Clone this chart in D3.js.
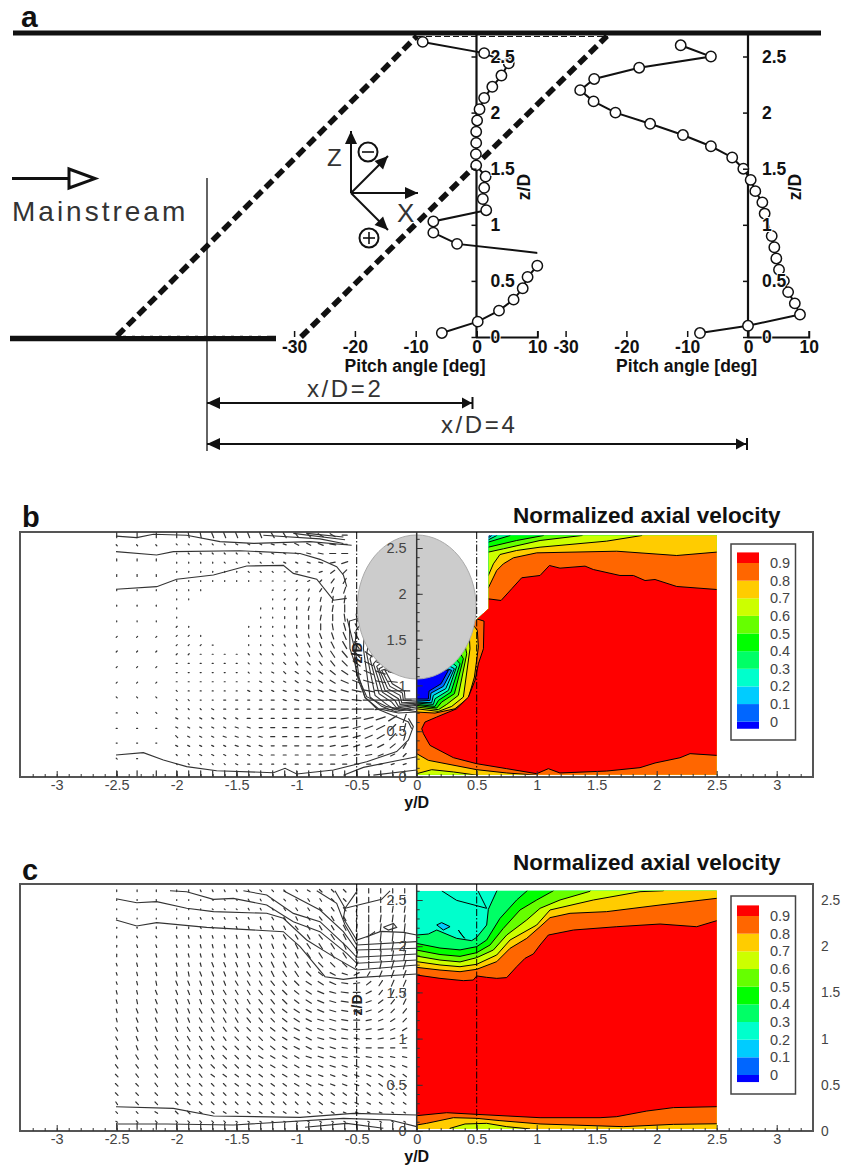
<!DOCTYPE html>
<html>
<head>
<meta charset="utf-8">
<style>
  body { margin: 0; background: #fff; }
  text { font-family: "Liberation Sans", Arial, sans-serif; }
</style>
<script src="https://cdn.jsdelivr.net/npm/d3@7"></script>
</head>
<body>
<div id="chart"></div>
<script>
// panel a - pitch angle profiles [deg] against z/D
const zA1 = [2.63,2.53,2.44,2.33,2.23,2.13,2.03,1.93,1.83,1.73,1.63,1.53,1.43,1.33,1.23,1.13,1.03,0.93,0.83,0.735,0.635,0.535,0.434,0.333,0.235,0.137,0.036];
const pitchA1 = [-8.85,1.26,5.3,4.1,2.6,1.26,0.5,0.1,-0.05,-0.05,-0.1,-0.05,1.5,1.26,1.04,1.6,-7.1,-7.1,-3.2,12.5,10,8.4,7.6,6.1,3.7,0.2,-5.7];
const zA2 = [2.6,2.5,2.4,2.3,2.2,2.1,2.0,1.9,1.8,1.7,1.6,1.5,1.4,1.3,1.2,1.1,0.9,0.8,0.7,0.6,0.5,0.4,0.3,0.2,0.1,0.035];
const pitchA2 = [-11.07,-6.1,-17.9,-25.3,-27.6,-25.4,-21.8,-16.1,-10.7,-6.1,-2.6,-0.77,0.44,1.2,2.36,2.74,3.9,4.33,4.66,5.1,5.9,6.6,7.7,8.55,0,-7.9];
const pitchTicks = [-30,-20,-10,0,10];
const zTicksA = [0,0.5,1,1.5,2,2.5];

// panels b, c - shared axis ticks and legend
const yMajor = [-3,-2.5,-2,-1.5,-1,-0.5,0,0.5,1,1.5,2,2.5,3];
const zMajor = [0,0.5,1,1.5,2,2.5];
const legendLabels = [0,0.1,0.2,0.3,0.4,0.5,0.6,0.7,0.8,0.9];
const bandEdges = [-0.04,0,0.1,0.2,0.3,0.4,0.5,0.6,0.7,0.8,0.9,0.96];
const bandColors = ["#0000ff","#0066ff","#00ccff","#00ffcc","#00ff66","#00ff00","#66ff00","#ccff00","#ffcc00","#ff6600","#ff0000"];

// contour boundaries of panel b in [y/D, z/D], index = level 0, 0.1 ... 0.9
const bDomain = [[0,0.025],[0,1.2],[0.5,1.72],[0.6,1.84],[0.6,2.636],[2.5,2.636],[2.5,0.025]];
const bTop = [
  [[0.55,2.7],[2.6,2.7]],
  [[0.55,2.625],[0.597,2.625],[0.61,2.636],[0.62,2.7],[2.6,2.7]],
  [[0.55,2.611],[0.597,2.611],[0.625,2.636],[0.65,2.7],[2.6,2.7]],
  [[0.55,2.589],[0.597,2.589],[0.667,2.636],[0.7,2.7],[2.6,2.7]],
  [[0.55,2.564],[0.597,2.564],[0.778,2.636],[0.8,2.7],[2.6,2.7]],
  [[0.55,2.509],[0.597,2.509],[0.833,2.582],[1.056,2.636],[1.1,2.7],[2.6,2.7]],
  [[0.55,2.455],[0.597,2.455],[0.722,2.491],[1.028,2.582],[1.375,2.636],[1.45,2.7],[2.6,2.7]],
  [[0.55,2.2],[0.597,2.2],[0.639,2.327],[0.694,2.429],[0.833,2.473],[1.028,2.509],[1.583,2.575],[1.875,2.636],[1.9,2.7],[2.6,2.7]],
  [[0.55,2.06],[0.597,2.065],[0.667,2.255],[0.722,2.327],[0.806,2.393],[1,2.447],[1.667,2.465],[2.167,2.418],[2.5,2.455],[2.6,2.45]],
  [[0.55,1.95],[0.597,1.945],[0.703,1.927],[0.792,2.055],[0.875,2.175],[1.028,2.2],[1.106,2.309],[1.194,2.28],[1.403,2.302],[1.472,2.265],[1.694,2.2],[1.806,2.2],[1.903,2.145],[1.986,2.156],[2.167,2.08],[2.5,2.047],[2.6,2.04]]
];
const bBottom = [
  [[2.6,-0.1],[-0.05,-0.1]],
  [[2.6,-0.1],[-0.05,-0.1]],
  [[2.6,-0.1],[-0.05,-0.1]],
  [[2.6,-0.1],[-0.05,-0.1]],
  [[2.6,-0.1],[-0.05,-0.1]],
  [[2.6,-0.1],[-0.05,-0.1]],
  [[2.6,-0.1],[-0.05,-0.1]],
  [[2.6,-0.1],[0.6,-0.1],[0.528,0.015],[0.306,0.055],[0.125,0.08],[0,0.036],[-0.05,0.03]],
  [[2.6,-0.1],[1.05,-0.1],[1,0.02],[0.75,0.044],[0.5,0.08],[0.097,0.182],[0,0.255],[-0.05,0.28]],
  [[2.6,0.22],[2.5,0.236],[2.278,0.255],[2.194,0.21],[1.986,0.153],[1.861,0.102],[1.583,0.065],[1.194,0.044],[1.097,0.091],[1,0.036],[0.75,0.091],[0.5,0.145],[0.306,0.211],[0.111,0.345],[0.056,0.473]]
];
const bCore = [
  [[0,0.851],[0.097,0.851],[0.103,0.938],[0.203,1.018],[0.264,1.164],[0.05,1.2]],
  [[0,0.829],[0.111,0.836],[0.119,0.916],[0.222,0.989],[0.292,1.164],[0.1,1.25]],
  [[0,0.818],[0.125,0.811],[0.139,0.891],[0.242,0.964],[0.314,1.182],[0.15,1.3]],
  [[0,0.807],[0.139,0.793],[0.153,0.855],[0.264,0.945],[0.333,1.207],[0.2,1.35]],
  [[0,0.793],[0.153,0.771],[0.181,0.836],[0.286,0.927],[0.361,1.236],[0.25,1.4]],
  [[0,0.782],[0.167,0.753],[0.208,0.818],[0.314,0.909],[0.389,1.291],[0.3,1.5]],
  [[0,0.764],[0.181,0.735],[0.25,0.793],[0.347,0.891],[0.417,1.345],[0.38,1.6]],
  [[0,0.745],[0.181,0.716],[0.292,0.771],[0.389,0.873],[0.444,1.4],[0.44,1.5],[0.4,1.7]],
  [[0,0.709],[0.153,0.698],[0.319,0.745],[0.431,0.865],[0.481,1.091],[0.514,1.418],[0.505,1.6],[0.45,1.7]],
  [[0.042,0.527],[0.069,0.6],[0.167,0.655],[0.333,0.745],[0.431,0.873],[0.486,1.055],[0.514,1.236],[0.556,1.4],[0.561,1.702],[0.49,1.73]]
];
// contour lines left of y/D=0, panel b
const bLeftLines = [
  [[-2.506,2.63],[-2.333,2.613],[-2.194,2.65],[-1.917,2.64],[-1.639,2.57],[-1.361,2.55],[-0.889,2.57],[-0.542,2.53]],
  [[-1.028,2.66],[-0.597,2.59]],
  [[-1.278,2.64],[-0.806,2.6],[-0.611,2.55]],
  [[-0.917,2.66],[-0.611,2.62]],
  [[-2.506,2.46],[-2.167,2.424],[-2.028,2.46],[-1.472,2.47],[-0.972,2.44],[-0.806,2.376],[-0.667,2.296],[-0.611,2.205],[-0.583,2.078]],
  [[-2.506,2.05],[-2.167,2.078],[-2,2.158],[-1.694,2.205],[-1.417,2.303],[-1.111,2.31],[-1.028,2.223],[-0.833,2.16],[-0.694,1.93],[-0.583,1.95]],
  [[-2.506,0.24],[-2.278,0.266],[-2.111,0.186],[-1.917,0.113],[-1.667,0.069],[-1.194,0.047],[-1.097,0.095],[-1,0.033],[-0.694,0.076],[-0.417,0.167],[-0.167,0.277],[-0.069,0.404],[-0.028,0.55],[-0.069,0.64]],
  [[-0.611,0.02],[-0.444,0.105],[0,0.222]],
  [[-0.361,0.02],[0,0.076]],
  [[-0.58,1.73],[-0.528,1.46],[-0.5,1.13],[-0.417,0.877],[-0.25,0.768],[0,0.713]]
];

// contour boundaries of panel c, index = level 0.3 ... 0.9
const cDomain = [[0,0.022],[0,2.6],[2.5,2.6],[2.5,0.022]];
const cTop = [
  [[-0.05,2.12],[0,2.121],[0.097,2.132],[0.167,2.175],[0.333,2.085],[0.458,2.06],[0.5,2.096],[0.583,2.229],[0.597,2.399],[0.667,2.597],[0.7,2.7],[2.6,2.7]],
  [[-0.05,2.04],[0,2.03],[0.194,1.98],[0.361,1.96],[0.5,1.995],[0.583,2.067],[0.694,2.301],[0.833,2.5],[0.92,2.6],[0.95,2.7],[2.6,2.7]],
  [[-0.05,1.97],[0,1.958],[0.194,1.91],[0.361,1.89],[0.5,1.93],[0.611,2.013],[0.722,2.193],[0.861,2.392],[1,2.5],[1.139,2.6],[1.2,2.7],[2.6,2.7]],
  [[-0.05,1.9],[0,1.893],[0.194,1.85],[0.361,1.83],[0.5,1.876],[0.639,1.959],[0.75,2.121],[0.917,2.284],[1.028,2.41],[1.194,2.5],[1.444,2.594],[1.5,2.7],[2.6,2.7]],
  [[-0.05,1.84],[0,1.833],[0.194,1.797],[0.361,1.778],[0.5,1.804],[0.667,1.905],[0.778,2.067],[1,2.229],[1.111,2.392],[1.472,2.5],[1.861,2.59],[2.056,2.6],[2.1,2.7],[2.6,2.7]],
  [[-0.05,1.78],[0,1.771],[0.194,1.742],[0.361,1.724],[0.5,1.75],[0.667,1.833],[0.778,1.977],[0.917,2.085],[1.028,2.211],[1.111,2.309],[1.278,2.356],[1.583,2.374],[2.028,2.446],[2.5,2.518],[2.6,2.53]],
  [[-0.05,1.69],[0,1.688],[0.194,1.652],[0.389,1.627],[0.472,1.634],[0.5,1.678],[0.583,1.663],[0.667,1.652],[0.75,1.66],[0.833,1.778],[0.903,1.869],[0.972,1.916],[1.028,2.013],[1.097,2.121],[1.306,2.175],[1.667,2.211],[2.028,2.24],[2.333,2.211],[2.5,2.276],[2.6,2.3]]
];
const cBottom = [
  [[2.6,-0.1],[-0.05,-0.1]],
  [[2.6,-0.1],[-0.05,-0.1]],
  [[2.6,-0.1],[-0.05,-0.1]],
  [[2.6,-0.1],[-0.05,-0.1]],
  [[2.6,-0.1],[1,-0.1],[0.944,0.022],[0.75,0.047],[0.583,0.083],[0.403,0.076],[0.278,0.029],[0.25,-0.1],[-0.05,-0.1]],
  [[2.6,0.08],[2.139,0.072],[1.722,0.047],[1.028,0.076],[0.694,0.112],[0.5,0.137],[0.306,0.144],[0.083,0.083],[0,0.065],[-0.05,0.05]],
  [[2.6,0.26],[2.5,0.263],[2.139,0.253],[1.917,0.216],[1.667,0.155],[1.528,0.144],[1.028,0.144],[0.5,0.18],[0.25,0.198],[0,0.166],[-0.05,0.16]]
];
const cIslands = [
  [[0.167,2.23],[0.208,2.255],[0.278,2.212],[0.222,2.175]],
  [[0.347,2.175],[0.39,2.1],[0.4,2.085],[0.37,2.13]]
];
const cExtraLines = [[[0.208,2.6],[0.333,2.496],[0.583,2.41],[0.51,2.6]]];
const cLeftLines = [
  [[-2.506,2.283],[-2.333,2.219],[-2.167,2.255],[-1.75,2.204],[-1.111,2.157],[-0.972,1.995],[-0.764,1.67],[-0.611,1.641],[-0.5,1.66],[0,1.699]],
  [[-2.506,2.514],[-2.333,2.471],[-2.167,2.482],[-1.917,2.41],[-1.694,2.374],[-1.25,2.356],[-1.111,2.302],[-0.917,2.067],[-0.694,1.887],[-0.5,1.742],[0,1.797]],
  [[-2.056,2.6],[-1.917,2.59],[-1.694,2.507],[-1.528,2.518],[-1.25,2.446],[-1.028,2.265],[-0.806,2.157],[-0.583,1.923],[-0.5,1.815],[0,1.85]],
  [[-1.444,2.6],[-1.25,2.554],[-1.028,2.355],[-0.806,2.265],[-0.583,1.995],[-0.5,1.88],[0,1.916]],
  [[-1.111,2.6],[-0.806,2.392],[-0.611,2.157],[-0.5,1.959],[0,1.977]],
  [[-0.833,2.6],[-0.667,2.464],[-0.597,2.23],[-0.5,2.013],[0,2.049]],
  [[-0.681,2.6],[-0.597,2.41],[-0.5,2.59]],
  [[-0.597,2.41],[-0.611,2.3],[-0.5,2.067],[-0.4,2.11],[-0.3,2.16],[-0.11,2.15],[0,2.121]],
  [[-0.597,2.41],[-0.292,2.507],[-0.222,2.6]],
  [[-2.506,0.263],[-2.028,0.245],[-1.694,0.162],[-0.972,0.148],[-0.528,0.191],[0,0.173]],
  [[-2.506,0.076],[-2.083,0.076],[-1.528,0.065],[-0.611,0.137],[-0.222,0.119],[0,0.047]],
  [[-0.931,0.04],[-0.583,0.083],[-0.278,0.029]],
  [[-0.417,2.096],[-0.347,2.157],[-0.39,2.12],[-0.417,2.096]],
  [[-0.278,2.204],[-0.194,2.247],[-0.167,2.204],[-0.236,2.175],[-0.278,2.204]]
];

// vector columns and rows
const vecCols = [-2.5,-2.33,-2.17,-2,-1.9,-1.8,-1.7,-1.6,-1.5,-1.4,-1.3,-1.2,-1.1,-1,-0.9,-0.8,-0.7,-0.6,-0.5,-0.4,-0.3,-0.2,-0.1];
const bOuterZ = [2.64,2.53,2.37,2.2,2.04,1.87,1.7,1.53,1.37,1.2,1.03,0.87,0.7,0.53,0.37,0.2,0.04];
const bOuterU = [
  [0,0,0],[1,1,1],[0,0,0],[0,0,0],[0,0,0],[0,0,0],[0,0,0],[-1,-1,-1],[-1,-1,-1],[-1,-1,-1],[-1,-1,-1],[-1,-1,-1],[-1,-1,-1],[-1,-1,-1],[-1,-1,-1],[-1,-1,0],[0,0,0]
];
const bOuterV = [
  [5,5,5],[-1,-1,-1],[-2,-2,-2],[-2,-2,-2],[-1,-1,-1],[-1,-1,-1],[-1,-1,-1],[-1,-1,-1],[-1,-1,-1],[-1,-1,-1],[-1,-1,-1],[1,1,1],[0,1,1],[0,0,0],[0,0,0],[1,0,0],[5,5,5]
];
const bRows = [2.64,2.54,2.44,2.34,2.24,2.14,2.04,1.94,1.84,1.74,1.64,1.54,1.44,1.34,1.24,1.14,1.04,0.94,0.84,0.74,0.64,0.54,0.44,0.34,0.24,0.14,0.04];
const bU = [
  [0,1,1,2,2,2,2,2,3,3,3,4,5,5,5,0,0,0,0,0],
  [1,1,1,1,1,2,2,2,3,3,4,4,5,6,5,0,0,0,0,0],
  [0,1,1,1,1,1,1,2,2,2,3,4,5,6,6,0,0,0,0,0],
  [0,0,0,0,1,1,1,1,1,2,2,3,4,5,6,0,0,0,0,0],
  [0,0,0,0,0,0,1,1,1,1,2,2,3,4,4,0,0,0,0,0],
  [0,0,0,0,0,0,0,1,1,1,1,2,2,3,3,0,0,0,0,0],
  [0,0,0,0,0,0,0,0,1,1,1,1,2,2,2,0,0,0,0,0],
  [0,0,0,0,0,0,0,0,0,1,1,1,1,1,1,0,0,0,0,0],
  [0,0,0,0,0,0,0,0,0,0,0,1,1,1,0,0,0,0,0,0],
  [0,0,0,0,0,0,0,0,0,0,0,0,1,0,-1,-1,0,0,0,0],
  [-1,0,0,0,0,0,0,0,0,0,0,0,0,-1,-2,-3,0,0,0,0],
  [-1,-1,0,0,0,0,0,0,0,-1,-1,-1,-2,-2,-3,-4,0,0,0,0],
  [-1,-1,-1,-1,0,0,0,0,-1,-1,-1,-2,-2,-3,-4,-5,-5,0,0,0],
  [-1,-1,-1,-1,-1,-1,-1,-1,-1,-1,-2,-2,-3,-4,-5,-6,-7,0,0,0],
  [-1,-1,-1,-1,-1,-1,-1,-1,-1,-2,-2,-3,-3,-4,-5,-7,-8,-8,0,0],
  [-1,-1,-1,-1,-1,-1,-1,-1,-2,-2,-3,-3,-4,-5,-6,-8,-9,-9,-9,0],
  [-1,-1,-1,-1,-1,-1,-1,-2,-2,-2,-3,-4,-4,-5,-7,-8,-10,-10,-9,0],
  [-1,-1,-1,-1,-1,-1,-2,-2,-2,-3,-3,-4,-5,-6,-7,-9,-11,-12,-12,-10],
  [-1,-1,-1,-1,-2,-2,-2,-2,-3,-3,-4,-4,-5,-6,-7,-9,-11,-12,-13,-13],
  [-1,-1,-1,-2,-2,-2,-2,-3,-3,-3,-4,-4,-5,-6,-7,-9,-10,-11,-12,-12],
  [-2,-1,-2,-2,-2,-2,-3,-3,-3,-4,-4,-5,-5,-6,-7,-8,-9,-9,-8,-3],
  [-2,-2,-2,-2,-2,-3,-3,-3,-4,-4,-4,-5,-5,-6,-7,-7,-8,-8,-6,-2],
  [-2,-2,-2,-2,-3,-3,-3,-3,-4,-4,-4,-5,-5,-6,-6,-7,-7,-7,-6,-2],
  [-2,-2,-2,-2,-2,-3,-3,-3,-3,-4,-4,-4,-5,-5,-6,-6,-6,-6,-5,-3],
  [-1,-1,-2,-2,-2,-2,-2,-3,-3,-3,-3,-4,-4,-5,-5,-5,-6,-5,-4,-3],
  [-1,-1,-1,-1,-1,-2,-2,-2,-2,-2,-3,-3,-3,-4,-4,-4,-4,-4,-3,-3],
  [0,0,0,0,0,0,0,0,0,0,0,0,0,0,0,0,0,0,0,0]
];
const bV = [
  [-5,-5,-5,-5,-5,-5,-5,-5,-5,-5,-4,-4,-3,-3,0,0,0,0,0,0],
  [-1,-1,-1,-1,-1,-1,-1,-1,-1,-1,-2,-2,-2,-1,0,0,0,0,0,0],
  [-1,-1,-1,-1,-1,-1,-1,-1,-1,-1,-1,-1,-1,0,0,0,0,0,0,0],
  [-1,-1,-1,-1,-1,-1,-1,-1,-1,-1,-1,-1,-1,1,2,0,0,0,0,0],
  [-1,-1,-1,-1,-1,-1,-1,-1,-1,0,0,0,1,3,4,0,0,0,0,0],
  [-1,-1,-1,-1,-1,-1,-1,0,0,0,1,1,2,4,5,0,0,0,0,0],
  [-1,-1,-1,0,0,0,0,0,0,1,1,2,3,5,6,0,0,0,0,0],
  [-1,-1,0,0,0,0,0,0,1,1,2,3,4,6,7,0,0,0,0,0],
  [-1,0,0,0,0,0,0,1,1,2,3,4,5,6,7,0,0,0,0,0],
  [-1,0,0,0,0,0,0,1,1,2,3,4,5,6,7,7,0,0,0,0],
  [-1,-1,0,0,0,0,1,1,1,2,3,4,6,6,7,6,0,0,0,0],
  [-1,-1,-1,0,0,0,1,1,1,2,3,4,5,6,7,7,0,0,0,0],
  [-1,-1,-1,0,0,0,1,1,1,2,3,4,5,6,7,7,6,0,0,0],
  [-1,-1,0,0,0,0,1,1,1,2,3,4,5,6,6,6,5,0,0,0],
  [0,0,0,0,0,0,1,1,1,2,3,3,4,5,5,5,4,3,0,0],
  [0,0,0,0,0,0,1,1,1,2,2,3,3,4,4,4,4,3,2,0],
  [0,0,0,0,0,0,0,1,1,1,2,2,3,3,3,3,3,2,1,0],
  [1,0,0,0,0,0,1,1,1,1,1,2,2,2,2,2,2,1,0,0],
  [1,1,0,0,0,0,0,0,0,1,1,1,1,1,1,1,0,0,0,0],
  [1,1,1,1,0,0,0,0,0,0,0,0,0,0,0,0,0,-1,-2,-3],
  [1,1,1,1,1,1,0,0,0,0,0,0,0,0,-1,-1,-2,-3,-5,-8],
  [1,1,1,1,1,1,1,0,0,0,0,0,-1,-1,-1,-2,-3,-4,-6,-8],
  [2,1,1,1,1,1,1,1,0,0,0,0,-1,-1,-1,-2,-3,-4,-6,-7],
  [1,1,1,1,1,1,1,1,0,0,0,0,0,-1,-1,-2,-2,-3,-4,-5],
  [1,1,1,1,1,1,1,1,0,0,0,0,0,0,-1,-1,-1,-2,-2,-3],
  [1,1,1,1,1,1,0,0,0,0,0,0,0,0,0,0,0,-1,-1,-1],
  [5,5,5,5,5,5,5,5,5,5,5,5,5,5,5,5,5,5,5,5]
];
const cRows = [2.6,2.5,2.4,2.3,2.2,2.1,2.0,1.9,1.8,1.7,1.6,1.5,1.4,1.3,1.2,1.1,1.0,0.9,0.8,0.7,0.6,0.5,0.4,0.3,0.2,0.1,0.05];
const cU = [
  [0,0,0,0,0,1,1,1,1,1,2,2,2,2,3,3,3,3,0,0,0,0,0],
  [0,0,0,0,0,0,1,1,1,1,1,2,2,2,2,2,3,3,0,0,0,0,0],
  [0,0,0,0,0,0,1,1,1,1,1,1,2,2,2,3,3,3,1,0,0,1,1],
  [0,0,0,0,0,1,1,1,1,1,1,2,2,2,3,3,3,3,1,0,1,1,1],
  [0,0,0,0,0,1,1,1,1,1,1,2,2,3,3,3,3,3,1,0,1,1,1],
  [0,1,1,1,1,1,1,1,1,1,2,2,3,3,3,4,4,3,1,0,1,1,1],
  [0,1,1,1,1,1,1,1,1,2,2,2,3,3,4,4,4,3,1,0,1,2,2],
  [0,1,1,1,1,1,1,1,2,2,2,3,3,3,4,4,4,4,2,0,1,2,2],
  [1,1,1,1,1,1,2,2,2,2,3,3,3,4,4,5,5,5,3,0,2,3,3],
  [1,1,1,1,1,2,2,2,2,3,3,3,4,4,5,5,6,6,6,3,3,3,3],
  [1,1,1,2,2,2,2,2,3,3,3,4,4,5,6,6,7,7,7,5,4,3,3],
  [1,1,2,2,2,2,2,3,3,3,4,4,5,5,6,7,7,8,8,6,4,3,2],
  [1,1,2,2,2,2,3,3,3,3,4,4,5,5,6,7,7,8,7,6,5,4,3],
  [1,2,2,2,2,3,3,3,3,4,4,4,5,6,6,7,7,7,7,6,5,4,4],
  [1,2,2,2,2,3,3,3,3,4,4,4,5,6,6,7,7,7,7,6,5,5,4],
  [2,2,2,2,3,3,3,3,4,4,4,5,5,6,6,7,7,7,7,6,6,5,5],
  [2,2,2,3,3,3,3,3,4,4,4,5,5,6,6,7,7,7,6,6,6,5,5],
  [2,2,3,3,3,3,3,4,4,4,5,5,5,6,6,6,6,6,6,6,6,5,5],
  [2,3,3,3,3,3,3,4,4,4,5,5,5,5,6,6,6,6,6,6,5,5,5],
  [3,3,3,3,3,3,4,4,4,4,4,5,5,5,5,5,6,6,5,5,5,5,5],
  [3,3,3,3,3,3,4,4,4,4,4,4,5,5,5,5,5,5,5,5,5,5,4],
  [3,3,3,3,3,3,3,3,4,4,4,4,4,5,5,5,5,5,5,4,4,4,4],
  [3,3,3,3,3,3,3,3,3,4,4,4,4,4,4,4,4,4,4,4,4,4,3],
  [2,3,3,3,3,3,3,3,3,3,3,3,3,3,3,4,4,4,4,4,3,3,3],
  [2,2,3,3,3,3,3,3,3,3,3,3,3,3,3,3,3,3,3,3,3,2,2],
  [2,2,2,2,2,2,2,2,2,2,2,2,2,2,2,2,2,2,2,2,2,2,2],
  [0,0,0,0,0,0,0,0,0,0,0,0,0,0,0,0,0,0,0,0,0,0,0]
];
const cV = [
  [-2,-2,-2,-2,-2,-2,-2,-2,-2,-2,-2,-2,-2,-2,-2,-3,-3,-3,-5,-5,-5,-5,-5],
  [-1,-1,-1,-1,-1,-1,-1,-1,-1,-2,-2,-2,-2,-2,-3,-3,-3,-3,5,6,6,6,6],
  [-1,-1,-1,-1,-1,-1,-1,-1,-1,-2,-2,-2,-3,-3,-3,-3,-4,-4,6,7,7,7,7],
  [-1,-1,-1,-1,-2,-2,-2,-2,-2,-2,-3,-3,-3,-4,-4,-4,-5,-5,7,8,8,8,8],
  [-1,-1,-2,-2,-2,-2,-2,-3,-3,-3,-3,-4,-4,-4,-5,-5,-5,-6,8,9,9,9,9],
  [-2,-2,-2,-3,-3,-3,-3,-3,-4,-4,-4,-4,-5,-5,-5,-5,-6,-6,9,10,10,10,10],
  [-2,-3,-3,-3,-3,-4,-4,-4,-4,-4,-5,-5,-5,-6,-6,-6,-6,-7,10,11,11,11,11],
  [-3,-3,-4,-4,-4,-4,-4,-4,-5,-5,-5,-5,-5,-6,-6,-6,-6,-6,9,10,11,11,11],
  [-3,-4,-4,-4,-4,-4,-5,-5,-5,-5,-5,-6,-6,-6,-6,-5,-5,-5,6,8,9,10,10],
  [-3,-4,-4,-5,-5,-5,-5,-5,-5,-5,-5,-6,-6,-6,-5,-4,-3,-2,3,5,7,8,8],
  [-3,-4,-5,-5,-5,-5,-5,-5,-5,-5,-5,-5,-5,-5,-4,-4,-3,-1,1,4,6,7,7],
  [-4,-4,-5,-5,-5,-5,-5,-5,-5,-5,-5,-5,-5,-4,-4,-3,-2,-1,0,3,5,6,7],
  [-4,-5,-5,-5,-5,-5,-5,-5,-5,-5,-5,-5,-5,-4,-4,-3,-2,-1,0,2,4,5,6],
  [-4,-5,-5,-5,-5,-5,-5,-5,-5,-5,-5,-5,-4,-4,-3,-3,-2,-1,0,2,3,4,5],
  [-4,-5,-5,-5,-5,-5,-5,-5,-5,-5,-5,-4,-4,-4,-3,-2,-2,-1,0,1,2,3,4],
  [-4,-5,-5,-5,-5,-5,-5,-5,-5,-4,-4,-4,-4,-3,-3,-2,-2,-1,0,1,1,2,3],
  [-4,-5,-5,-5,-5,-5,-4,-4,-4,-4,-4,-4,-3,-3,-3,-2,-2,-1,-1,0,1,1,2],
  [-4,-5,-5,-5,-5,-4,-4,-4,-4,-4,-4,-4,-3,-3,-3,-2,-2,-1,-1,0,0,0,0],
  [-4,-5,-5,-5,-5,-4,-4,-4,-4,-4,-3,-3,-3,-3,-2,-2,-2,-1,-1,-1,-1,-1,-1],
  [-4,-4,-4,-4,-4,-4,-4,-4,-4,-3,-3,-3,-3,-3,-2,-2,-2,-2,-2,-2,-2,-2,-2],
  [-3,-4,-4,-4,-4,-4,-3,-3,-3,-3,-3,-3,-3,-3,-2,-2,-2,-2,-2,-2,-3,-3,-3],
  [-3,-3,-4,-4,-3,-3,-3,-3,-3,-3,-3,-3,-3,-3,-3,-2,-2,-2,-2,-3,-3,-3,-3],
  [-3,-3,-3,-3,-3,-3,-3,-3,-3,-3,-3,-3,-3,-3,-3,-3,-3,-3,-3,-3,-3,-3,-3],
  [-3,-3,-3,-3,-3,-3,-3,-3,-3,-3,-3,-3,-3,-3,-3,-3,-2,-2,-2,-2,-2,-2,-2],
  [-2,-2,-2,-3,-3,-2,-2,-2,-2,-2,-2,-2,-2,-2,-2,-2,-2,-1,-1,-1,-1,-1,-1],
  [-1,-2,-2,-2,-2,-2,-2,-2,-1,-1,-1,-1,-1,-1,-1,-1,-1,-1,-1,-1,-1,-1,-1],
  [7,7,7,7,7,7,7,7,7,7,7,7,7,7,7,7,7,7,7,7,7,7,7]
];

const WIDTH = 841;
const HEIGHT = 1166;
const svg = d3.select("#chart").append("svg").attr("width", WIDTH).attr("height", HEIGHT);
svg.style("display", "block").style("background", "#fff");

// ------------ panel a schematic
const ink = "#111";
function seg(x1, y1, x2, y2, w, dash, col) {
  return svg.append("line").attr("x1", x1).attr("y1", y1).attr("x2", x2).attr("y2", y2)
    .attr("stroke", col || ink).attr("stroke-width", w).attr("stroke-dasharray", dash || null);
}
function label(x, y, str, size, weight, anchor, col, spacing) {
  return svg.append("text").attr("x", x).attr("y", y).text(str)
    .attr("font-size", size).attr("font-weight", weight || "normal")
    .attr("text-anchor", anchor || "start").attr("fill", col || ink)
    .attr("letter-spacing", spacing || null);
}
function head(x1, y1, x2, y2, len, wid) {
  // filled arrow head with tip at x2,y2
  const a = Math.atan2(y2 - y1, x2 - x1);
  const bx = x2 - len * Math.cos(a), by = y2 - len * Math.sin(a);
  const nx = -Math.sin(a) * wid, ny = Math.cos(a) * wid;
  svg.append("path").attr("d", `M${x2},${y2}L${bx + nx},${by + ny}L${bx - nx},${by - ny}Z`).attr("fill", ink);
}
function arrow(x1, y1, x2, y2, w) {
  seg(x1, y1, x2, y2, w || 2);
  head(x1, y1, x2, y2, 13, 6);
}

seg(13, 33, 821, 33, 5);
seg(10, 338.5, 276, 338.5, 5.5);
seg(117, 335.5, 270, 335.5, 1, "6,3", "#fff");
seg(417, 36.5, 608, 36.5, 1.2, "6,3");
seg(117, 336, 417, 36, 5.5, "10,5");
seg(301, 337, 607, 36, 5.5, "10,5");
seg(207, 178, 207, 451, 1.3);

seg(12, 178.6, 68, 178.6, 3);
svg.append("path").attr("d", "M69,169L95,178.6L69,188Z").attr("fill", "#fff").attr("stroke", ink).attr("stroke-width", 3);
label(12, 221, "Mainstream", 28, "normal", "start", "#333", 3);

arrow(351, 193, 351, 131);
arrow(351, 193, 418, 193);
arrow(351, 193, 388, 156);
arrow(351, 193, 388, 230);
label(327, 166, "Z", 24, "normal", "start", "#333");
label(397, 222, "X", 26, "normal", "start", "#333");
[[368, 152], [369, 238]].forEach((c) => {
  svg.append("circle").attr("cx", c[0]).attr("cy", c[1]).attr("r", 9.5)
    .attr("fill", "#fff").attr("stroke", ink).attr("stroke-width", 2);
  seg(c[0] - 6, c[1], c[0] + 6, c[1], 1.6);
});
seg(369, 232, 369, 244, 1.6);

arrow(472, 403, 207, 403);
head(207, 403, 472, 403, 10, 5.5);
seg(472.5, 397, 472.5, 409, 2);
arrow(747, 444, 207, 444);
head(207, 444, 746, 444, 10, 5.5);
seg(747, 438, 747, 450, 2);
label(307, 397, "x/D=2", 24, "normal", "start", "#333", 2.6);
label(441, 433, "x/D=4", 24, "normal", "start", "#333", 2.6);

label(21, 27, "a", 30, "bold");

// ------------ pitch angle profiles
function drawProfile(x0, zs, pitch) {
  const x = d3.scaleLinear().domain([0, 10]).range([x0, x0 + 60.8]);
  const z = d3.scaleLinear().domain([0, 2.5]).range([337, 56.5]);
  const g = svg.append("g");

  g.append("line").attr("x1", x(0)).attr("x2", x(0)).attr("y1", 33).attr("y2", 338)
    .attr("stroke", ink).attr("stroke-width", 2.2);

  const clipId = "clip-" + x0;
  g.append("clipPath").attr("id", clipId).append("rect")
    .attr("x", x(-30)).attr("y", 30).attr("width", x(10) - x(-30)).attr("height", 320);

  const line = d3.line().x((d) => x(d[0])).y((d) => z(d[1]));
  g.append("path").attr("d", line(pitch.map((p, i) => [p, zs[i]])))
    .attr("fill", "none").attr("stroke", ink).attr("stroke-width", 2)
    .attr("clip-path", `url(#${clipId})`);

  g.selectAll("circle").data(pitch.map((p, i) => [p, zs[i]]).filter((d) => d[0] <= 10))
    .join("circle")
    .attr("cx", (d) => x(d[0])).attr("cy", (d) => z(d[1])).attr("r", 5.2)
    .attr("fill", "#fff").attr("stroke", ink).attr("stroke-width", 1.5);

  const xAxis = g.append("g").attr("transform", "translate(0,337)")
    .call(d3.axisBottom(x).tickValues(pitchTicks).tickSize(-6).tickPadding(4).tickFormat((d) => String(d)));
  const zAxis = g.append("g").attr("transform", `translate(${x(0)},0)`)
    .call(d3.axisRight(z).tickValues(zTicksA).tickSize(-5).tickPadding(14).tickFormat((d) => String(d)));
  [xAxis, zAxis].forEach((a) => {
    a.selectAll("line").attr("stroke", ink).attr("stroke-width", 1.5);
    a.selectAll("text").attr("font-size", 17.5).attr("font-weight", "bold").attr("fill", ink);
    a.attr("font-family", null);
  });
  xAxis.select(".domain").attr("stroke", ink).attr("stroke-width", 1.8);
  zAxis.select(".domain").remove();
  zAxis.selectAll("text").attr("stroke", "#fff").attr("stroke-width", 2).attr("paint-order", "stroke");

  label(x(-10.1), 372, "Pitch angle [deg]", 17.5, "bold", "middle");
  svg.append("text").attr("transform", `translate(${x(0) + 53},187) rotate(-90)`)
    .attr("text-anchor", "middle").attr("font-size", 17.5).attr("font-weight", "bold").attr("fill", ink).text("z/D");
}
drawProfile(476.5, zA1, pitchA1);
drawProfile(748, zA2, pitchA2);

// ------------ panels b and c
function drawPanel(p) {
  const x = d3.scaleLinear().domain([0, 1]).range([416.7, 536.7]);
  const z = d3.scaleLinear().domain([0, 2.5]).range([p.zBase, p.z25]);
  const g = svg.append("g");
  const line = d3.line().x((d) => x(d[0])).y((d) => z(d[1]));
  const closed = (pts) => line(pts) + "Z";

  g.append("rect").attr("x", 20).attr("y", p.frameTop).attr("width", 793).attr("height", p.zBase - p.frameTop)
    .attr("fill", "#fff").attr("stroke", "#555").attr("stroke-width", 2);

  g.append("clipPath").attr("id", p.id + "-clip").append("path").attr("d", closed(p.domain));
  const fills = g.append("g").attr("clip-path", `url(#${p.id}-clip)`);
  fills.append("path").attr("d", closed(p.domain)).attr("fill", p.baseColor);

  p.levelColors.forEach((col, i) => {
    const core = p.core ? p.core[i] : [];
    const start = core.length && core[0][0] === 0 ? [[-0.05, core[0][1]]] : [];
    const poly = [...p.top[i], ...p.bottom[i], ...start, ...core];
    fills.append("path").attr("d", closed(poly)).attr("fill", col)
      .attr("stroke", "#000").attr("stroke-width", 1).attr("stroke-linejoin", "round");
  });
  (p.islands || []).forEach((pts) => {
    fills.append("path").attr("d", closed(pts)).attr("fill", "#00ccff").attr("stroke", "#000");
  });
  (p.extra || []).forEach((pts) => {
    fills.append("path").attr("d", line(pts)).attr("fill", "none").attr("stroke", "#000");
  });

  // contour lines on the vector side
  const left = g.append("g").attr("fill", "none").attr("stroke", "#333").attr("stroke-width", 1.1);
  p.leftLines.forEach((pts) => left.append("path").attr("d", line(pts)));
  (p.core || []).forEach((pts) => {
    left.append("path").attr("d", line(pts.map((d) => [-d[0], d[1]])));
  });

  // vectors, centred on their grid point
  const k = p.vecScale;
  const vec = (col, rowZ, u, v) => {
    if (!u && !v) return;
    g.append("line")
      .attr("x1", x(col) - k * u / 2).attr("x2", x(col) + k * u / 2)
      .attr("y1", z(rowZ) + k * v / 2).attr("y2", z(rowZ) - k * v / 2)
      .attr("stroke", "#333").attr("stroke-width", 1.2).attr("stroke-linecap", "round");
  };
  p.vecU.forEach((row, r) => {
    row.forEach((u, c) => vec(p.cols[c], p.rows[r], u, p.vecV[r][c]));
  });
  if (p.outerZ) {
    p.outerZ.forEach((zv, r) => {
      p.outerU[r].forEach((u, c) => vec(vecCols[c], zv, u, p.outerV[r][c]));
    });
  }

  if (p.hole) {
    g.append("ellipse").attr("cx", x(0)).attr("cy", z(p.hole.z))
      .attr("rx", x(p.hole.ry) - x(0)).attr("ry", z(0) - z(p.hole.rz))
      .attr("fill", "#cccccc").attr("stroke", "#aaa");
  }

  [-0.5, 0.5].forEach((v) => {
    g.append("line").attr("x1", x(v)).attr("x2", x(v)).attr("y1", p.frameTop).attr("y2", p.zBase)
      .attr("stroke", "#000").attr("stroke-width", 1).attr("stroke-dasharray", "7,2,1.5,2");
  });

  // axes: ticks point into the plot, labels stay outside
  const yMinor = d3.range(-32, 33).map((d) => d / 10);
  const zMinor = d3.range(0, 27).map((d) => d / 10);
  const axisG = g.append("g");
  const xMin = axisG.append("g").attr("transform", `translate(0,${p.zBase})`)
    .call(d3.axisBottom(x).tickValues(yMinor).tickSize(-3).tickFormat(""));
  const xMaj = axisG.append("g").attr("transform", `translate(0,${p.zBase})`)
    .call(d3.axisBottom(x).tickValues(yMajor).tickSize(-6).tickPadding(3).tickFormat((d) => String(d)));
  const zMin = axisG.append("g").attr("transform", `translate(${x(0)},0)`)
    .call(d3.axisLeft(z).tickValues(zMinor).tickSize(-3).tickFormat(""));
  const zMaj = axisG.append("g").attr("transform", `translate(${x(0)},0)`)
    .call(d3.axisLeft(z).tickValues(zMajor).tickSize(-6).tickPadding(10).tickFormat((d) => String(d)));
  [xMin, xMaj, zMin, zMaj].forEach((a) => {
    a.select(".domain").remove();
    a.selectAll("line").attr("stroke", "#333");
    a.selectAll("text").attr("font-size", 14.5).attr("fill", "#444");
    a.attr("font-family", null);
  });
  g.append("line").attr("x1", x(0)).attr("x2", x(0)).attr("y1", p.frameTop).attr("y2", p.zBase)
    .attr("stroke", "#333").attr("stroke-width", 1.5);

  if (p.rightLabels) {
    zMajor.forEach((v) => {
      label(821, z(v) + 5, String(v), 13.8, "normal", "start", "#444");
    });
  }

  label(x(0), p.zBase + 30.5, "y/D", 16, "bold", "middle");
  svg.append("text").attr("transform", `translate(${x(-0.5) + 5},${p.zLabelY}) rotate(-90)`)
    .attr("text-anchor", "middle").attr("font-size", 14).attr("font-weight", "bold").attr("fill", "#222").text("z/D");

  label(513, p.titleY, "Normalized axial velocity", 22.5, "bold");
  label(p.letterX, p.letterY, p.letter, p.letterSize, "bold");

  // legend
  const ly = d3.scaleLinear().domain([0, 0.9]).range([p.legend.y0, p.legend.y9]);
  g.append("rect").attr("x", 731).attr("y", p.legend.top).attr("width", 64.5).attr("height", p.legend.bottom - p.legend.top)
    .attr("fill", "#fff").attr("stroke", "#444").attr("stroke-width", 1.5);
  g.selectAll(".band").data(bandColors).join("rect").attr("class", "band")
    .attr("x", 737).attr("width", 22)
    .attr("y", (d, i) => ly(bandEdges[i + 1]))
    .attr("height", (d, i) => ly(bandEdges[i]) - ly(bandEdges[i + 1]))
    .attr("fill", (d) => d);
  legendLabels.forEach((v) => {
    label(770, ly(v) + 5, String(v), 14.5, "normal", "start", "#444");
  });
}

drawPanel({
  id: "b", zBase: 777, z25: 548, frameTop: 532, zLabelY: 653, titleY: 523,
  letter: "b", letterX: 22, letterY: 527, letterSize: 29,
  domain: bDomain, baseColor: "#0000ff", levelColors: bandColors.slice(1),
  top: bTop, bottom: bBottom, core: bCore, leftLines: bLeftLines,
  cols: vecCols.slice(3), rows: bRows, vecU: bU, vecV: bV, vecScale: 1,
  outerZ: bOuterZ, outerU: bOuterU, outerV: bOuterV,
  hole: { z: 1.856, ry: 0.495, rz: 0.786 },
  legend: { top: 544, bottom: 740, y0: 721.7, y9: 563 }
});
drawPanel({
  id: "c", zBase: 1131, z25: 900, frameTop: 884, zLabelY: 1005, titleY: 870,
  letter: "c", letterX: 22, letterY: 880, letterSize: 29,
  domain: cDomain, baseColor: "#00ffcc", levelColors: bandColors.slice(4),
  top: cTop, bottom: cBottom, islands: cIslands, extra: cExtraLines, leftLines: cLeftLines,
  cols: vecCols, rows: cRows, vecU: cU, vecV: cV, vecScale: 0.85,
  rightLabels: true,
  legend: { top: 896, bottom: 1094, y0: 1075, y9: 916 }
});
</script>
</body>
</html>
